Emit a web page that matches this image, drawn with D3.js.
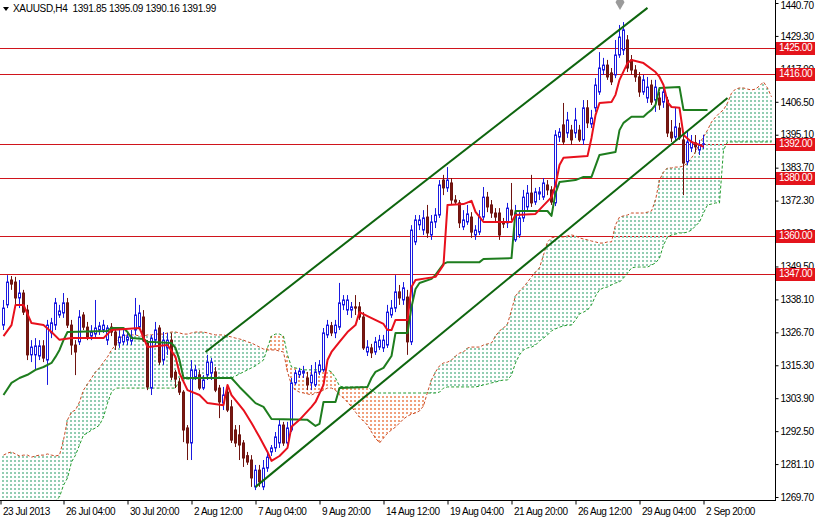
<!DOCTYPE html>
<html><head><meta charset="utf-8">
<script src="https://cdn.jsdelivr.net/npm/d3@7"></script>
<style>
html,body{margin:0;padding:0;background:#fff;}
svg{display:block;}
text{font-family:"Liberation Sans",Arial,sans-serif;}
</style></head><body>
<svg id="c" width="815" height="518"></svg>
<script>
const symbolTitle = "XAUUSD,H4";
const lastQuote = ["1391.85","1395.09","1390.16","1391.99"];
// [open, high, low, close] per H4 bar
const candles = [
[1329.2,1337.9,1327.5,1335.1],[1336.2,1346.5,1335.1,1344.1],[1344.8,1346.2,1341.4,1343.4],[1344.1,1345.9,1336.2,1338.6],[1338.6,1344.8,1335.1,1340.3],
[1340.3,1341.4,1332.7,1333.7],[1334.4,1336.2,1317.1,1318.9],[1318.9,1324.0,1316.4,1321.6],[1318.9,1324.7,1313.7,1322.0],[1318.5,1324.0,1317.1,1322.0],
[1322.0,1324.0,1316.4,1317.8],[1317.1,1331.0,1308.5,1329.2],[1326.5,1331.7,1324.7,1330.0],[1329.2,1338.6,1327.5,1336.9],[1332.7,1336.2,1331.7,1334.1],
[1333.4,1340.3,1331.7,1336.9],[1336.9,1338.6,1328.2,1329.2],[1329.2,1331.0,1318.9,1322.3],[1322.3,1324.0,1311.9,1319.9],[1323.4,1334.4,1322.3,1332.0],
[1332.7,1333.7,1327.5,1328.5],[1328.5,1330.3,1324.0,1325.1],[1325.4,1329.2,1324.0,1326.8],[1326.1,1337.9,1324.7,1328.2],[1327.5,1330.3,1325.8,1328.9],
[1327.5,1331.0,1326.5,1329.2],[1324.0,1329.2,1322.3,1328.2],[1328.5,1329.9,1325.4,1326.8],[1326.8,1328.2,1320.6,1322.3],[1323.0,1327.5,1321.3,1325.1],
[1323.4,1327.5,1322.3,1325.8],[1324.0,1326.8,1322.3,1325.1],[1323.7,1327.5,1322.3,1325.1],[1327.5,1338.6,1325.8,1332.7],[1328.5,1336.2,1327.5,1333.4],
[1332.0,1334.4,1323.4,1324.0],[1323.0,1324.0,1306.7,1307.8],[1307.4,1325.8,1305.0,1324.7],[1324.0,1330.3,1322.3,1327.5],[1328.2,1329.2,1315.4,1316.4],
[1317.1,1326.8,1315.4,1324.0],[1321.3,1326.5,1318.9,1324.0],[1324.0,1326.5,1310.2,1311.2],[1312.9,1313.7,1307.4,1310.5],[1309.5,1310.9,1305.0,1306.0],
[1306.0,1306.7,1288.7,1292.9],[1293.6,1294.6,1282.5,1288.4],[1288.4,1317.1,1282.5,1313.7],[1311.2,1315.4,1310.2,1313.7],[1312.0,1313.7,1306.7,1307.4],
[1307.4,1311.9,1306.7,1310.2],[1311.9,1318.9,1310.2,1316.4],[1312.6,1317.8,1310.2,1316.4],[1313.0,1314.7,1306.0,1306.7],[1307.4,1308.5,1297.0,1302.6],
[1302.2,1307.8,1299.8,1305.0],[1306.0,1307.4,1299.1,1299.8],[1300.9,1303.3,1288.4,1289.4],[1292.9,1294.6,1287.0,1288.4],[1291.2,1294.6,1282.5,1287.7],
[1288.4,1289.4,1280.1,1283.2],[1284.0,1285.3,1280.8,1281.8],[1282.5,1284.2,1273.2,1276.3],[1273.2,1280.8,1272.1,1279.0],[1279.0,1280.8,1273.2,1274.9],
[1273.2,1282.5,1272.1,1279.7],[1279.7,1285.3,1278.4,1283.5],[1285.3,1287.7,1283.9,1286.7],[1286.7,1292.2,1285.3,1290.5],[1288.4,1296.4,1286.7,1294.6],
[1294.6,1295.7,1287.4,1288.4],[1288.4,1295.7,1287.0,1293.6],[1292.9,1310.9,1292.2,1309.2],[1309.2,1313.7,1308.5,1312.6],[1312.0,1314.4,1310.9,1313.3],
[1312.6,1315.1,1310.9,1313.3],[1310.9,1313.0,1306.7,1308.5],[1309.2,1315.4,1306.7,1311.9],[1308.5,1316.4,1307.8,1313.0],[1313.0,1317.1,1311.9,1315.4],
[1313.7,1328.2,1313.0,1326.5],[1325.8,1331.0,1324.7,1329.2],[1329.0,1330.3,1325.4,1326.5],[1326.5,1331.0,1324.7,1329.2],[1328.5,1343.8,1327.5,1336.9],
[1336.2,1339.6,1334.4,1337.9],[1334.4,1339.6,1332.7,1337.9],[1334.4,1337.2,1331.7,1335.5],[1335.5,1339.6,1332.7,1335.1],[1335.5,1337.2,1331.0,1332.0],
[1332.0,1333.7,1320.6,1321.3],[1319.9,1324.0,1318.5,1321.6],[1321.3,1322.7,1317.8,1319.6],[1319.9,1325.1,1318.9,1323.4],[1321.6,1325.8,1320.6,1324.0],
[1321.3,1325.8,1319.9,1324.0],[1322.3,1336.2,1321.3,1333.7],[1332.7,1337.9,1331.7,1335.1],[1335.1,1346.5,1333.7,1340.7],[1340.7,1343.1,1336.2,1338.6],
[1337.9,1344.1,1336.2,1342.1],[1338.9,1341.4,1318.9,1323.4],[1323.4,1363.8,1322.3,1362.1],[1358.0,1367.3,1356.9,1365.6],[1363.9,1367.3,1362.1,1365.6],
[1362.1,1369.0,1360.4,1366.3],[1366.6,1370.8,1359.4,1361.1],[1360.4,1367.3,1358.7,1364.9],[1364.9,1369.7,1362.8,1367.3],[1367.3,1379.4,1366.3,1377.7],
[1379.4,1381.2,1374.2,1376.7],[1376.7,1383.9,1375.3,1379.4],[1378.4,1380.1,1370.8,1372.5],[1372.5,1374.2,1370.8,1371.8],[1371.5,1372.5,1362.8,1364.6],
[1363.2,1369.0,1362.1,1365.6],[1364.9,1370.8,1363.9,1367.7],[1366.6,1368.3,1359.4,1361.4],[1360.4,1363.8,1358.7,1362.1],[1361.4,1369.0,1360.4,1366.6],
[1366.6,1377.0,1365.6,1373.5],[1373.5,1375.3,1368.3,1370.1],[1370.8,1372.5,1366.3,1368.0],[1368.0,1369.7,1364.9,1366.6],[1368.0,1369.7,1358.7,1360.4],
[1364.9,1366.3,1362.8,1364.2],[1364.6,1371.5,1362.8,1369.7],[1369.0,1378.4,1365.6,1367.3],[1358.7,1370.8,1358.0,1368.0],[1360.4,1368.3,1359.4,1366.3],
[1366.3,1376.0,1364.9,1373.5],[1370.1,1377.7,1369.0,1374.9],[1374.9,1381.2,1370.1,1371.5],[1371.8,1376.7,1370.8,1375.3],[1374.6,1377.0,1372.5,1375.3],
[1373.5,1380.1,1372.5,1378.4],[1377.7,1379.4,1374.2,1376.0],[1376.0,1377.3,1370.8,1371.8],[1371.5,1396.7,1370.4,1395.0],[1394.3,1397.4,1392.6,1396.0],
[1398.5,1406.1,1391.6,1392.6],[1395.7,1403.0,1394.0,1400.2],[1396.7,1398.5,1391.6,1393.3],[1395.7,1404.4,1394.0,1400.2],[1396.7,1398.5,1392.6,1393.3],
[1393.3,1407.1,1391.6,1404.4],[1404.4,1407.1,1397.4,1399.2],[1398.8,1403.7,1397.4,1400.9],[1404.4,1414.7,1403.0,1412.3],[1409.9,1423.7,1408.9,1418.2],
[1417.5,1421.7,1415.8,1419.2],[1419.2,1421.0,1414.1,1415.1],[1416.5,1418.2,1412.3,1413.4],[1415.8,1427.9,1414.7,1422.7],[1422.7,1433.1,1421.7,1428.9],
[1424.4,1434.1,1422.7,1431.4],[1427.9,1429.6,1416.8,1418.2],[1421.0,1422.7,1415.8,1417.5],[1417.5,1419.2,1413.4,1415.1],[1415.1,1416.8,1408.2,1409.9],
[1409.9,1415.8,1408.9,1414.1],[1407.8,1415.1,1406.1,1411.6],[1412.3,1414.1,1405.4,1406.4],[1407.1,1414.1,1403.0,1411.6],[1407.8,1409.9,1403.7,1405.4],
[1406.4,1412.3,1404.4,1409.9],[1407.1,1408.2,1394.3,1395.7],[1396.0,1400.2,1392.6,1394.0],[1394.3,1404.4,1393.3,1397.8],[1397.4,1399.2,1393.3,1394.0],
[1393.3,1395.7,1374.2,1385.3],[1385.7,1396.7,1384.6,1392.6],[1390.5,1395.0,1389.1,1392.6],[1392.3,1395.0,1389.1,1390.9],[1389.8,1393.3,1388.1,1391.6],
[1391.85,1395.09,1390.16,1391.99]
];
// Tenkan-sen vertices [bar, price]
const tenkan = [[0,1325.4],[2,1329.2],[3,1336.2],[5,1336.2],[7,1329.9],[10,1329.2],[12,1326.8],[14,1324.1],[17,1324.7],[25,1324.7],[27,1327.5],[34,1328.2],[36,1321.6],[41,1322.3],[43,1318.2],[44,1312.6],[46,1306.7],[49,1305.0],[51,1302.2],[55,1301.5],[56,1308.5],[57,1305.0],[60,1299.8],[62,1295.3],[64,1290.5],[66,1285.3],[67,1282.2],[69,1283.9],[71,1286.7],[72,1294.0],[74,1296.4],[77,1300.9],[78,1302.6],[80,1308.5],[81,1317.1],[82,1319.9],[84,1323.4],[86,1326.8],[88,1329.2],[89,1333.7],[91,1332.3],[95,1329.6],[96,1327.5],[97,1327.5],[98,1331.0],[101,1331.0],[102,1342.4],[103,1344.8],[108,1345.9],[110,1350.0],[111,1370.8],[115,1371.1],[117,1372.2],[118,1368.4],[120,1364.9],[127,1364.9],[128,1367.3],[133,1367.7],[137,1373.5],[138,1377.7],[139,1384.6],[140,1387.1],[146,1387.7],[147,1394.0],[148,1401.9],[149,1406.1],[152,1406.4],[153,1408.9],[154,1414.1],[156,1419.9],[157,1421.0],[160,1419.9],[163,1416.8],[164,1415.1],[165,1412.3],[166,1406.4],[167,1404.7],[169,1404.4],[170,1395.0],[172,1392.6],[174,1391.6],[175,1390.9]];
// Kijun-sen vertices [bar, price]
const kijun = [[0,1305.0],[2,1309.2],[4,1310.9],[6,1312.0],[8,1313.7],[10,1314.7],[12,1316.1],[13,1318.2],[14,1320.6],[15,1324.0],[16,1326.8],[26,1327.2],[27,1328.2],[30,1328.2],[31,1326.8],[32,1324.7],[35,1324.4],[36,1323.4],[42,1323.0],[43,1321.3],[44,1317.1],[45,1310.9],[57,1310.9],[59,1307.8],[61,1305.0],[63,1302.2],[65,1300.9],[67,1296.7],[76,1296.4],[78,1294.3],[79,1295.0],[80,1302.6],[83,1302.6],[84,1307.4],[91,1307.8],[92,1310.9],[93,1313.0],[95,1314.4],[97,1318.5],[98,1326.5],[101,1326.5],[102,1335.5],[103,1341.7],[104,1343.8],[107,1345.2],[108,1346.6],[110,1350.4],[111,1351.0],[119,1351.0],[120,1352.1],[127,1352.4],[128,1368.7],[136,1368.7],[137,1367.0],[138,1374.9],[139,1378.7],[143,1379.4],[145,1380.5],[147,1380.5],[149,1388.1],[153,1389.1],[154,1396.7],[155,1399.2],[157,1401.3],[160,1401.3],[161,1402.6],[162,1403.7],[163,1405.4],[164,1411.3],[169,1411.6],[170,1403.7],[176,1403.7]];
// Senkou span A and B, one value per bar (bars 0..192)
const spanA = [1284.2,1284.9,1285.3,1284.6,1283.9,1284.2,1284.2,1283.5,1283.9,1284.2,1284.2,1284.6,1284.2,1283.9,1284.2,
1289.4,1296.4,1299.1,1299.8,1302.6,1306.7,1308.8,1310.9,1313.0,1314.4,1316.4,1318.2,1320.6,1322.3,1324.7,
1325.4,1325.8,1325.8,1325.8,1325.4,1325.4,1325.8,1325.8,1326.1,1326.1,1326.1,
1326.5,1326.8,1326.8,1326.5,1326.1,1326.1,1326.5,1326.8,1326.8,1326.8,1326.5,1326.1,1325.8,1325.8,1325.8,
1325.4,1325.1,1324.7,1324.4,1324.0,1323.4,1323.0,1322.3,1321.6,1320.9,
1320.6,1320.6,1320.6,1320.2,1319.9,1313.0,1308.5,
1306.7,1306.0,1305.7,1305.4,1305.0,1305.7,1306.0,1306.7,1307.4,1307.4,1306.7,
1305.0,1304.0,1302.6,1300.9,1299.1,1297.4,1296.0,1294.6,1292.2,1290.1,1288.4,
1290.1,1291.8,1292.9,1293.9,1295.3,1296.7,1297.7,1298.4,1298.8,1299.5,1301.2,1306.0,
1310.2,1313.0,1315.1,1316.1,1316.4,1317.1,1318.5,1319.5,1319.9,1321.3,1321.6,1321.6,1321.6,1322.3,1322.7,1323.0,
1325.4,1327.2,1328.2,1329.6,1334.4,1339.3,1341.0,1342.4,1344.1,1345.9,1347.6,1349.0,1353.5,1358.0,1359.4,
1359.7,1359.7,1359.7,1360.1,1360.4,1360.1,1359.4,1359.0,1358.7,1358.3,1358.0,1357.6,1357.6,1358.0,1358.0,
1363.9,1366.6,1367.0,1367.3,1368.0,1368.0,1368.0,1368.0,1368.3,1368.7,
1372.5,1379.4,1382.2,1383.6,1383.6,1383.9,1383.9,1384.3,1385.3,1387.1,1389.1,1392.2,1394.3,
1396.7,1399.5,1401.2,1402.6,1403.7,1406.1,1409.5,1410.9,1411.3,1411.3,1410.9,1410.6,1410.9,1412.0,1413.4,1411.3,1408.2];
const spanB = [1268.5,1268.5,1268.5,1268.5,1268.5,1268.5,1268.5,1268.5,1268.5,1268.5,1268.5,1268.5,1268.5,1268.5,
1269.7,1273.8,1276.3,1281.8,1284.2,1287.7,1291.2,1291.8,1292.9,1293.6,1294.6,1297.4,1302.2,1306.0,
1307.4,1307.4,1307.4,1307.4,1307.4,1307.4,1307.4,1307.4,1307.4,1307.4,1307.4,1307.4,1307.4,1307.4,1307.4,1307.4,
1310.2,1310.2,1310.5,1310.5,1310.5,1310.9,1310.9,1310.9,1310.9,1310.9,1310.9,1310.9,1310.9,1310.9,
1311.6,1312.3,1313.0,1313.7,1314.4,1315.1,1316.1,1317.1,
1321.3,1325.4,1326.1,1326.1,1325.4,1318.9,1314.7,
1314.4,1314.0,1313.7,1313.7,1313.7,1313.7,1313.7,1313.7,1313.7,1313.0,1310.9,
1308.1,
1307.8,1307.8,1307.8,1307.8,1307.8,1307.8,1307.8,
1306.7,
1305.7,1305.7,1305.7,1305.7,1305.7,1305.7,1305.7,1305.7,1305.7,1305.7,1305.7,1305.7,1305.7,1305.7,1305.7,1305.7,
1306.0,1307.4,
1307.8,1307.8,1307.8,1307.8,1307.8,1307.8,1307.8,1307.8,
1308.1,1308.5,1308.8,1309.2,1309.5,1309.9,1310.2,1310.2,
1311.9,1316.1,1318.9,1320.6,1321.3,1321.6,1322.3,1323.7,1324.7,1325.8,1327.2,1327.9,1328.5,1328.9,1329.2,1329.2,
1331.0,1333.1,1333.7,1334.4,1336.2,1339.3,1341.4,1342.1,1342.4,1343.1,1343.8,1344.1,1345.5,1347.2,1349.0,1349.3,
1349.3,1349.3,1349.3,
1350.0,1350.7,1352.4,1356.9,1359.7,1360.4,1360.7,1361.1,1361.1,1361.4,1362.1,1363.5,1364.9,1368.0,
1370.8,1371.1,1371.5,1371.5,
1389.8,
1392.6,1392.6,1392.6,1392.6,1392.6,1392.6,1392.6,1392.6,1392.6,1392.6,1392.6,1392.6];
const levels = [1425, 1416, 1392, 1380, 1360, 1347];
const priceTicks = [1440.70,1429.30,1417.90,1406.50,1395.10,1383.70,1372.30,1360.90,1349.50,1338.10,1326.70,1315.30,1303.90,1292.50,1281.10,1269.70];
const timeTickBars = [-0.75,15,31,47,63,79,95,111,127,143,159,175];
const timeTickLabels = ["23 Jul 2013","26 Jul 04:00","30 Jul 20:00","2 Aug 12:00","7 Aug 04:00","9 Aug 20:00","14 Aug 12:00","19 Aug 04:00","21 Aug 20:00","26 Aug 12:00","29 Aug 04:00","2 Sep 20:00"];
const channelUpper = [[50.5,1319.9],[161,1439.0]];
const channelLower = [[63,1273.2],[181,1407.8]];
const markerBar = 154.25, markerPrice = 1441.0;

const W = 815, H = 518, plotR = 775, plotB = 500;
const svg = d3.select("#c");
const x = d3.scaleLinear().domain([0, 1]).range([3, 7]);
const y = d3.scaleLinear().domain([1269.7, 1440.7]).range([497, 3]);

svg.append("rect").attr("width", W).attr("height", H).attr("fill", "#fff");
svg.append("defs").append("clipPath").attr("id", "plot")
  .append("rect").attr("x", 0).attr("y", 0).attr("width", plotR).attr("height", plotB);
const g = svg.append("g").attr("clip-path", "url(#plot)");

// horizontal levels
g.append("g").selectAll("line").data(levels).join("line")
  .attr("x1", 0).attr("x2", plotR)
  .attr("y1", d => Math.round(y(d)) + 0.5).attr("y2", d => Math.round(y(d)) + 0.5)
  .attr("stroke", "#d0141c").attr("stroke-width", 1);

// cloud hatch: one dotted column per bar on a common dot grid
const period = 4;
const hatch = [];
spanA.forEach((a, i) => {
  const t = Math.round(Math.min(y(a), y(spanB[i])));
  const b = Math.round(Math.max(y(a), y(spanB[i])));
  for (let yy = Math.ceil(t / period) * period; yy < b; yy += period) {
    hatch.push({ i, yy, h: Math.min(2, b - yy), bull: a >= spanB[i] });
  }
});
g.append("g").attr("shape-rendering", "crispEdges").selectAll("rect").data(hatch).join("rect")
  .attr("x", d => x(d.i) - 1).attr("y", d => d.yy).attr("width", 2).attr("height", d => d.h)
  .attr("fill", d => d.bull ? "#92cdb2" : "#f0a07c");
const spanLine = d3.line().x((d, i) => x(i) + 0.5).y(d => y(d));
g.append("path").attr("d", spanLine(spanA)).attr("fill", "none")
  .attr("stroke", "#c84a24").attr("stroke-width", 1).attr("stroke-dasharray", "3,2");
g.append("path").attr("d", spanLine(spanB)).attr("fill", "none")
  .attr("stroke", "#1f9a2a").attr("stroke-width", 1).attr("stroke-dasharray", "3,2");

// candles
const cg = g.append("g");
candles.forEach((c, i) => {
  const [o, h, l, cl] = c;
  const bull = cl >= o;
  const col = bull ? "#1a1ae0" : "#6e1410";
  const cx = x(i) + 0.5;
  cg.append("line").attr("x1", cx).attr("x2", cx).attr("y1", y(h)).attr("y2", y(l))
    .attr("stroke", col).attr("stroke-width", 1);
  const top = y(Math.max(o, cl)), bot = y(Math.min(o, cl));
  cg.append("rect").attr("x", cx - 1).attr("width", 2)
    .attr("y", top).attr("height", Math.max(bot - top, 0.5))
    .attr("fill", bull ? "#fff" : "#7b1711").attr("stroke", col).attr("stroke-width", 1);
});

// tenkan / kijun
const vline = d3.line().x(d => x(d[0]) + 0.5).y(d => y(d[1]));
g.append("path").attr("d", vline(kijun)).attr("fill", "none")
  .attr("stroke", "#1e7d1e").attr("stroke-width", 2).attr("stroke-linejoin", "round");
g.append("path").attr("d", vline(tenkan)).attr("fill", "none")
  .attr("stroke", "#e8101c").attr("stroke-width", 2).attr("stroke-linejoin", "round");

// channel lines
[channelUpper, channelLower].forEach(ch => {
  g.append("path").attr("d", vline(ch)).attr("fill", "none")
    .attr("stroke", "#0e650e").attr("stroke-width", 2);
});

// marker
g.append("path").attr("d", d3.symbol(d3.symbolDiamond, 70)())
  .attr("transform", `translate(${x(markerBar)},${y(markerPrice)})`)
  .attr("fill", "#9a9a9a");

// axes frame
svg.append("line").attr("x1", plotR + 0.5).attr("x2", plotR + 0.5).attr("y1", 0).attr("y2", plotB + 1)
  .attr("stroke", "#000");
svg.append("line").attr("x1", 0).attr("x2", plotR + 1).attr("y1", plotB + 0.5).attr("y2", plotB + 0.5)
  .attr("stroke", "#000");

const yAxis = d3.axisRight(y).tickValues(priceTicks).tickSize(3).tickPadding(2)
  .tickFormat(d => d.toFixed(2));
const ya = svg.append("g").attr("transform", `translate(${plotR + 0.5},0)`).call(yAxis);
ya.select(".domain").remove();
ya.selectAll("text").attr("font-size", 10).attr("letter-spacing", "-0.45px").attr("fill", "#000")
  .attr("dy", (d, i) => i === 0 ? "0.55em" : "0.32em")
  .attr("font-family", "Liberation Sans, Arial, sans-serif");

const xAxis = d3.axisBottom(x).tickValues(timeTickBars).tickSize(4)
  .tickFormat((d, i) => timeTickLabels[i]);
const xa = svg.append("g").attr("transform", `translate(0.5,${plotB + 0.5})`).call(xAxis);
xa.select(".domain").remove();
xa.selectAll("text").attr("text-anchor", "start").attr("dx", 2).attr("y", 7)
  .attr("font-size", 10).attr("letter-spacing", "-0.45px").attr("fill", "#000")
  .attr("font-family", "Liberation Sans, Arial, sans-serif");

// level labels on axis
const lg = svg.append("g");
levels.forEach(v => {
  const yy = Math.round(y(v));
  lg.append("rect").attr("x", plotR + 1).attr("y", yy - 6).attr("width", W - plotR - 1).attr("height", 13)
    .attr("fill", "#e4141c");
  lg.append("text").attr("x", plotR + 4).attr("y", yy + 0.5).attr("dominant-baseline", "middle")
    .attr("font-size", 10).attr("letter-spacing", "-0.45px").attr("fill", "#fff")
    .text(v.toFixed(2));
});

// header
svg.append("path").attr("d", "M3,7 L9,7 L6,11 Z").attr("fill", "#000");
svg.append("text").attr("x", 13).attr("y", 12).attr("font-size", 10).attr("letter-spacing", "-0.3px")
  .attr("fill", "#000").style("white-space", "pre")
  .text(symbolTitle + "  " + lastQuote.join(" "));
</script>
</body></html>
